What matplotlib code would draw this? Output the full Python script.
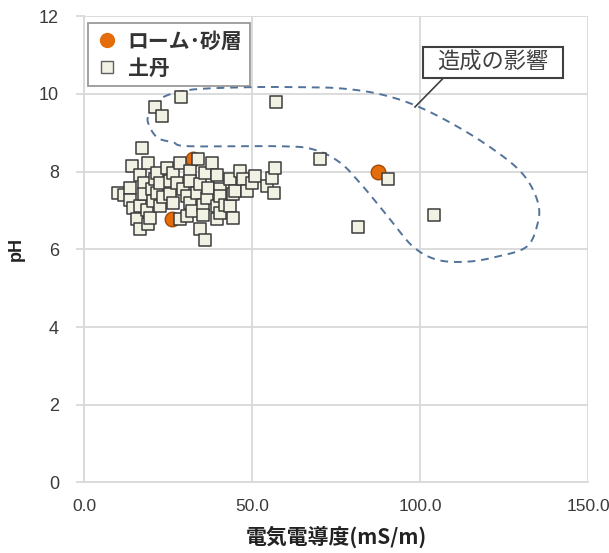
import numpy as np
import matplotlib
matplotlib.use("Agg")
import matplotlib.pyplot as plt
from matplotlib.lines import Line2D
from matplotlib.patches import Rectangle

plt.rcParams['font.family'] = ['Noto Sans CJK JP', 'DejaVu Sans']

# ローム・砂層 (電気電導度 mS/m, pH)
loam_ec = [26.1, 32.5, 87.5]
loam_ph = [6.78, 8.31, 7.98]

# 土丹 (電気電導度 mS/m, pH)
dotan_ec = [
    10.2, 12.0, 13.7, 13.7, 14.2, 14.7, 15.7, 16.7, 16.7, 16.7,
    17.2, 17.7, 17.7, 18.6, 19.1, 19.1, 19.6, 20.1, 20.6, 21.1,
    21.6, 21.6, 22.6, 22.6, 23.5, 24.6, 25.6, 25.6, 26.6, 26.6,
    27.6, 28.6, 28.6, 29.5, 30.6, 30.6, 31.5, 31.5, 31.5, 32.0,
    33.5, 34.0, 34.5, 34.5, 35.5, 35.5, 36.0, 36.0, 36.5, 37.0,
    38.0, 39.5, 39.5, 39.5, 40.5, 40.5, 40.5, 42.0, 43.5, 43.5,
    44.4, 44.4, 45.0, 46.4, 47.4, 48.4, 49.9, 50.9, 54.4, 55.9,
    56.4, 56.8,
    21.1, 23.2, 28.9, 57.1, 70.2, 90.5, 81.5, 104.2,
]
dotan_ph = [
    7.45, 7.40, 7.58, 7.28, 8.14, 7.07, 6.77, 7.92, 7.11, 6.51,
    8.61, 7.71, 7.41, 7.02, 8.23, 6.64, 6.81, 7.55, 7.24, 7.80,
    7.97, 7.45, 7.71, 7.11, 7.35, 8.10, 7.75, 7.41, 7.97, 7.19,
    7.71, 8.23, 6.77, 7.55, 7.37, 6.85, 8.01, 7.75, 7.19, 6.98,
    7.45, 8.31, 7.67, 6.51, 7.15, 6.89, 7.97, 6.25, 7.32, 7.58,
    8.23, 7.92, 7.11, 6.77, 7.54, 7.37, 6.94, 7.15, 7.80, 7.11,
    7.41, 6.81, 7.50, 8.01, 7.80, 7.50, 7.71, 7.88, 7.62, 7.84,
    7.45, 8.10,
    9.65, 9.42, 9.91, 9.78, 8.31, 7.80, 6.58, 6.89,
]

# outline drawn around the affected samples
loop_ec = [21.1, 22.6, 26.5, 33.6, 49.4, 64.3, 76.2, 88.1, 100.0, 114.0,
           125.9, 131.8, 135.1, 135.1, 131.8, 122.9, 114.0, 105.1, 97.9, 91.1,
           83.0, 76.2, 68.2, 58.3, 31.5, 26.5, 21.7, 19.0, 19.6]
loop_ph = [9.65, 9.86, 10.01, 10.12, 10.17, 10.17, 10.14, 9.99, 9.65, 9.01,
           8.31, 7.80, 7.20, 6.69, 6.07, 5.81, 5.68, 5.73, 6.07, 6.77,
           7.62, 8.23, 8.57, 8.65, 8.65, 8.75, 8.88, 9.27, 9.52]

x_ticks = [0, 50, 100, 150]
y_ticks = [0, 2, 4, 6, 8, 10, 12]


def closed_spline(xs, ys, n=24):
    P = np.column_stack([xs, ys])
    m = len(P)
    t = np.linspace(0, 1, n, endpoint=False)[:, None]
    segs = []
    for i in range(m):
        p0, p1, p2, p3 = P[i - 1], P[i], P[(i + 1) % m], P[(i + 2) % m]
        segs.append(0.5 * (2 * p1 + (-p0 + p2) * t
                           + (2 * p0 - 5 * p1 + 4 * p2 - p3) * t ** 2
                           + (-p0 + 3 * p1 - 3 * p2 + p3) * t ** 3))
    segs.append(P[:1])
    return np.vstack(segs)


GRID = '#d9d9d9'
TXT = '#3a3a3a'
ORANGE = '#e46c0a'
SQ_FACE = '#f1f1e4'
SQ_EDGE = '#3c3c3c'

fig = plt.figure(figsize=(6.09, 5.53), dpi=100)
ax = fig.add_axes([0.138, 0.1275, 0.8275, 0.8435])

ax.set_xlim(0, 150)
ax.set_ylim(0, 12)
ax.set_xticks(x_ticks)
ax.set_xticklabels([f"{v:.1f}" for v in x_ticks])
ax.set_yticks(y_ticks)

ax.grid(True, color=GRID, lw=1.3)
ax.set_axisbelow(True)
for s in ['top', 'right']:
    ax.spines[s].set_visible(False)
for s in ['left', 'bottom']:
    ax.spines[s].set_color(GRID)
    ax.spines[s].set_linewidth(1.3)
ax.tick_params(axis='x', length=0, pad=12, labelsize=12.5, labelcolor=TXT)
ax.tick_params(axis='y', length=6, width=1.3, color=GRID, pad=12,
               labelsize=13, labelcolor=TXT)
for lab in ax.get_xticklabels() + ax.get_yticklabels():
    lab.set_family(['Liberation Sans', 'DejaVu Sans'])

ax.scatter(loam_ec, loam_ph, s=110, marker='o', color=ORANGE,
           edgecolors='#a04a08', linewidths=1.0, zorder=3)
ax.scatter(dotan_ec, dotan_ph, s=66, marker='s', color=SQ_FACE,
           edgecolors=SQ_EDGE, linewidths=1.1, zorder=4)

loop = closed_spline(loop_ec, loop_ph)
ax.plot(loop[:, 0], loop[:, 1], color='#52739a', lw=1.4,
        dashes=(4, 3), zorder=2)

# callout box with leader line
ax.add_patch(Rectangle((100.9, 10.40), 41.7, 0.80, fc='white', ec='#404040',
                       lw=1.5, zorder=6))
ax.text(121.75, 10.80, '造成の影響', ha='center', va='center', fontsize=16,
        color='#404040', zorder=7)
ax.plot([106.9, 98.5], [10.40, 9.66], color='#404040', lw=1.2, zorder=6)

handles = [
    Line2D([], [], ls='none', marker='o', ms=10, mfc=ORANGE, mec=ORANGE,
           label='ローム･砂層'),
    Line2D([], [], ls='none', marker='s', ms=8, mfc=SQ_FACE, mec='#606060',
           mew=1.0, label='土丹'),
]
leg = ax.legend(handles=handles, loc='upper left', bbox_to_anchor=(0.008, 0.985),
                borderaxespad=0, frameon=True, fancybox=False, handlelength=1.15,
                handletextpad=0.4, borderpad=0.35, labelspacing=0.3,
                prop={'size': 15, 'weight': 'bold'})
leg.get_frame().set_edgecolor('#808080')
leg.get_frame().set_linewidth(1.3)
for t in leg.get_texts():
    t.set_color('#333333')
leg.set_zorder(7)

ax.set_xlabel('電気電導度(mS/m)', fontsize=15, fontweight='bold',
              color='#222222', labelpad=8)
ax.set_ylabel('pH', fontsize=13, fontweight='bold', color='#222222',
              labelpad=10, family=['Liberation Sans', 'DejaVu Sans'])

fig.savefig('out.png', dpi=100, facecolor='white')
